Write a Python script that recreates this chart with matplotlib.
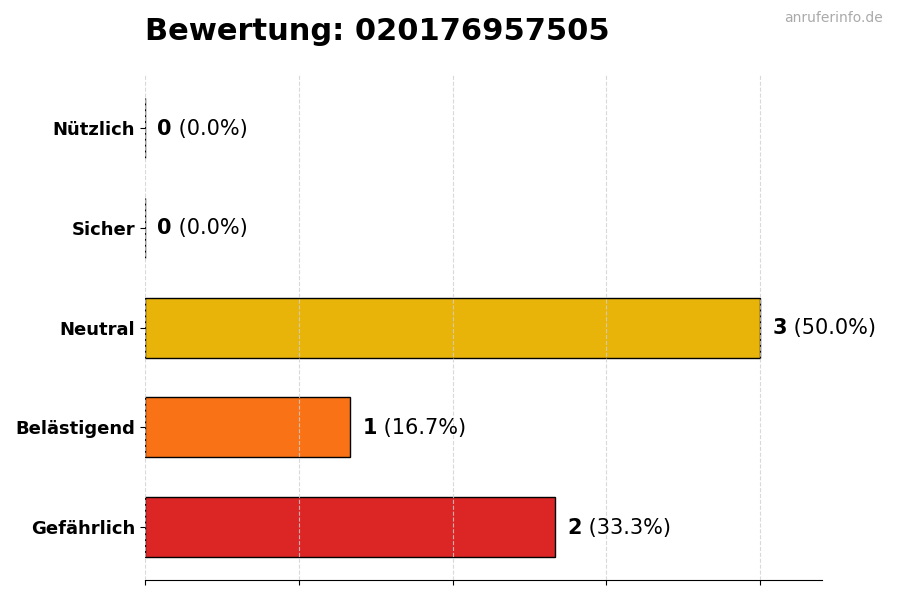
import matplotlib
matplotlib.use('Agg')
import matplotlib.pyplot as plt

# categories top to bottom, counts per category
categories = ['Nützlich', 'Sicher', 'Neutral', 'Belästigend', 'Gefährlich']
counts = [0, 0, 3, 1, 2]
colors = ['#22c55e', '#3b82f6', '#e8b40a', '#f97316', '#dc2626']
title = 'Bewertung: 020176957505'

total = sum(counts)
ypos = list(range(len(categories)))[::-1]

fig, ax = plt.subplots(figsize=(9, 6), dpi=100)
fig.subplots_adjust(left=0.161, right=0.913, top=0.875, bottom=0.033)

ax.barh(ypos, counts, height=0.6, color=colors, edgecolor='black',
        linewidth=1, zorder=2)
ax.set_yticks(ypos)
ax.set_yticklabels(categories, fontsize=13, fontweight='bold')
ax.set_xlim(0, max(counts) * 1.1)
ax.set_xticks([i * 0.75 for i in range(5)])
ax.set_xticklabels([])
# grid sits over the bars
ax.grid(axis='x', linestyle='--', color='#d0d0d0', linewidth=0.8, alpha=0.8, zorder=3)
ax.set_axisbelow(False)
for s in ['top', 'right', 'left']:
    ax.spines[s].set_visible(False)

ax.set_title(title, fontsize=22, fontweight='bold', loc='left', pad=25)
fig.text(0.981, 0.970, 'anruferinfo.de', fontsize=10, color='#aaaaaa',
         ha='right', va='center')

# value labels: bold count followed by normal percentage
fig.canvas.draw()
renderer = fig.canvas.get_renderer()
for y, c in zip(ypos, counts):
    pct = c / total * 100 if total else 0
    t1 = ax.annotate(str(c), (c, y), xytext=(9, -0.5), textcoords='offset points',
                     fontsize=15, fontweight='bold', va='center', ha='left')
    w = t1.get_window_extent(renderer).width * 72 / fig.dpi
    ax.annotate(f' ({pct:.1f}%)', (c, y), xytext=(9 + w, -0.5),
                textcoords='offset points', fontsize=15, va='center', ha='left')

fig.savefig('out.png', dpi=100)
